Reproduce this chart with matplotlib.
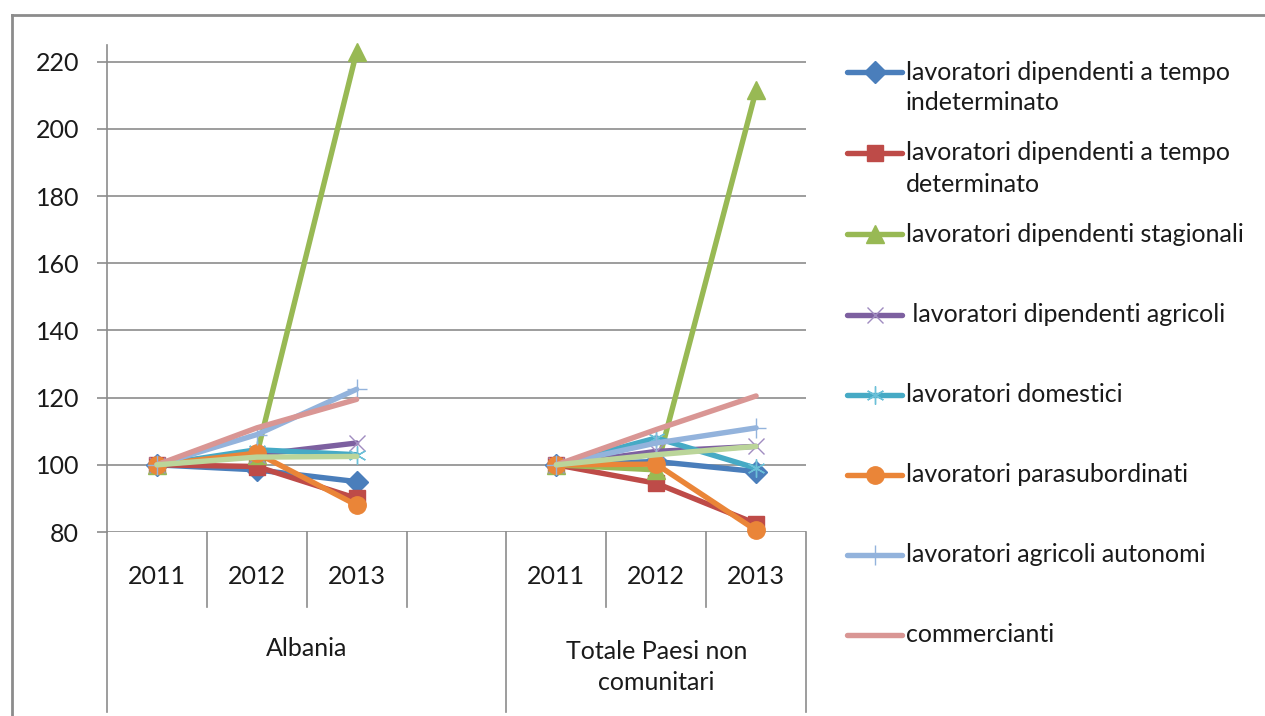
import numpy as np
import matplotlib
matplotlib.use("Agg")
import matplotlib.pyplot as plt
from matplotlib.lines import Line2D
import matplotlib.transforms as mtransforms

plt.rcParams['font.family'] = ['Lato', 'DejaVu Sans']

# ---- data ----
years = ["2011", "2012", "2013", "", "2011", "2012", "2013"]
groups = ["Albania", "Totale Paesi non\ncomunitari"]
nan = np.nan
indeterminato   = [100, 98.5, 95.0, nan, 100, 101.0, 98.0]
determinato     = [100, 99.5, 90.0, nan, 100, 94.5, 82.5]
stagionali      = [100, 103.0, 223.0, nan, 100, 98.5, 211.5]
agricoli        = [100, 103.0, 106.5, nan, 100, 104.0, 105.5]
domestici       = [100, 104.5, 103.0, nan, 100, 108.0, 99.0]
parasubordinati = [100, 103.5, 88.0, nan, 100, 100.2, 80.5]
agr_autonomi    = [100, 109.0, 122.5, nan, 100, 106.5, 111.0]
commercianti    = [100, 111.0, 119.5, nan, 100, 110.5, 120.5]
altri           = [100, 102.3, 102.5, nan, 100, 103.0, 105.5]

labels = ["lavoratori dipendenti a tempo\nindeterminato",
          "lavoratori dipendenti a tempo\ndeterminato",
          "lavoratori dipendenti stagionali",
          " lavoratori dipendenti agricoli",
          "lavoratori domestici",
          "lavoratori parasubordinati",
          "lavoratori agricoli autonomi",
          "commercianti"]
series = [indeterminato, determinato, stagionali, agricoli, domestici,
          parasubordinati, agr_autonomi, commercianti, altri]
yticks = [80, 100, 120, 140, 160, 180, 200, 220]

# ---- styles ----
styles = [
    dict(color="#4A7EBB", marker="D", ms=11, mfc="#4A7EBB", mec="#4A7EBB", mew=1),
    dict(color="#BE4B48", marker="s", ms=12, mfc="#BE4B48", mec="#BE4B48", mew=1),
    dict(color="#98B954", marker="^", ms=13.5, mfc="#98B954", mec="#98B954", mew=1),
    dict(color="#7D60A0", marker="x", ms=12, mfc="none", mec="#A08CC0", mew=1),
    dict(color="#46AAC5", marker=(6, 2, 0), ms=13, mfc="none", mec="#6CC0D8", mew=1),
    dict(color="#EA8538", marker="o", ms=12.5, mfc="#EA8538", mec="#EA8538", mew=1),
    dict(color="#93B3DC", marker="+", ms=14, mfc="none", mec="#93B3DC", mew=1),
    dict(color="#D99694", marker=None),
    dict(color="#BBD59A", marker=None),
]

FS = 18
W, H = 1265, 716
fig = plt.figure(figsize=(W / 100, H / 100), dpi=100)
ax_l, ax_r, ax_t, ax_b = 107, 806, 45, 532
ax = fig.add_axes([ax_l / W, 1 - ax_b / H, (ax_r - ax_l) / W, (ax_b - ax_t) / H])

x = np.arange(len(years))
for s, st in zip(series, styles):
    ax.plot(x, s, lw=3.9, solid_capstyle="round", solid_joinstyle="round",
            clip_on=False, zorder=3, **st)

ax.set_xlim(-0.5, len(years) - 0.5)
ax.set_ylim(80, 225)
ax.set_yticks(yticks)
ax.yaxis.grid(True, color="#8C8C8C", lw=1.2)
ax.set_axisbelow(True)
ax.set_xticks([])
for sp in ["top", "right", "bottom"]:
    ax.spines[sp].set_visible(False)
ax.spines["left"].set_color("#8C8C8C")
ax.spines["left"].set_linewidth(1.2)
ax.tick_params(axis="y", length=7, width=1.2, color="#8C8C8C", labelsize=FS,
               pad=13, labelcolor="#1a1a1a")

# ---- category axis (two levels) ----
trans = mtransforms.blended_transform_factory(ax.transData, ax.transAxes)
axh = ax_b - ax_t
def ya(py):
    return -(py - ax_b) / axh

short_y = ya(607)
long_y = ya(712)
for i in range(len(years) + 1):
    xb = i - 0.5
    yb = long_y if i in (0, 4, 7) else short_y
    ax.plot([xb, xb], [0, yb], transform=trans, color="#8C8C8C", lw=1.2,
            clip_on=False, zorder=1)
for i, yl in enumerate(years):
    if yl:
        ax.text(i, ya(576), yl, transform=trans, ha="center", va="center",
                fontsize=FS, color="#1a1a1a")
ax.text(1.5, ya(648), groups[0], transform=trans, ha="center", va="center",
        fontsize=FS, color="#1a1a1a")
ax.text(5.0, ya(667), groups[1], transform=trans, ha="center", va="center",
        fontsize=FS, color="#1a1a1a", linespacing=1.42)

# ---- legend (manual, evenly spaced like the original) ----
leg_y = [72, 153, 234, 315, 395, 475, 555, 635]
for lab, st, py in zip(labels, styles[:8], leg_y):
    fy = 1 - py / H
    st2 = dict(st)
    col = st2.pop("color")
    mk = st2.pop("marker")
    fig.add_artist(Line2D([847 / W, 902 / W], [fy, fy], color=col, lw=3.9,
                          solid_capstyle="round"))
    if mk is not None:
        fig.add_artist(Line2D([874.5 / W], [fy], marker=mk, linestyle="none", **st2))
    fig.text(906 / W, fy, lab.split("\n")[0], ha="left", va="center",
             fontsize=FS, color="#1a1a1a")
    if "\n" in lab:
        fig.text(906 / W, 1 - (py + 31) / H, lab.split("\n")[1], ha="left",
                 va="center", fontsize=FS, color="#1a1a1a")

# ---- outer chart frame ----
fig.add_artist(Line2D([12 / W, 12 / W], [0, 1 - 15 / H], color="#8C8C8C", lw=2))
fig.add_artist(Line2D([12 / W, 1], [1 - 15 / H, 1 - 15 / H], color="#8C8C8C", lw=2))

fig.savefig("out.png", dpi=100, facecolor="white")
